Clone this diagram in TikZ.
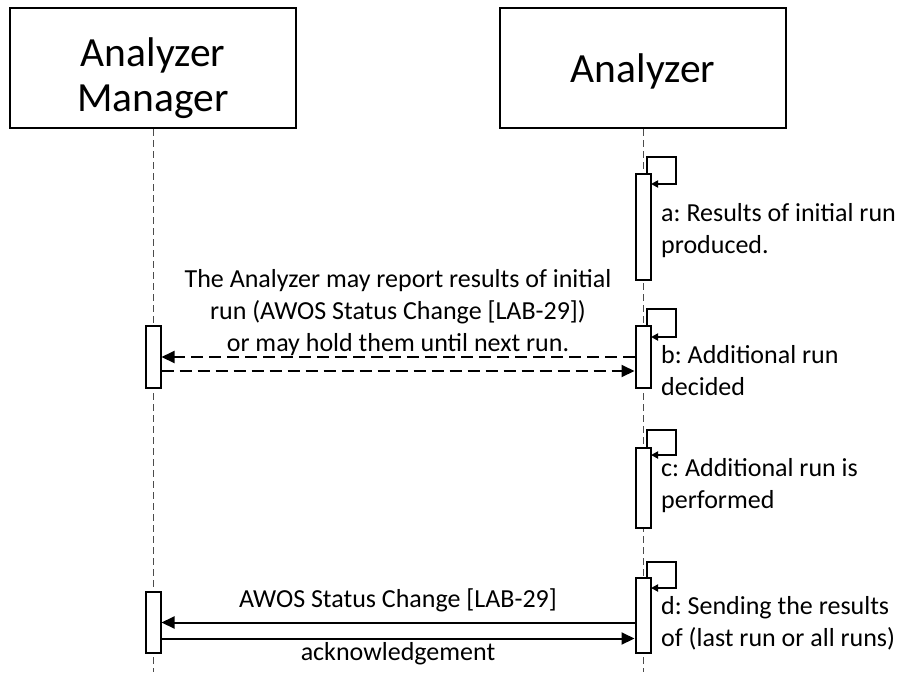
\documentclass[tikz,border=0pt]{standalone}
\usepackage{fontspec}
\setmainfont{Carlito}
\usetikzlibrary{arrows.meta,calc}
\frenchspacing
\newcommand\headfnt{\fontsize{41.5}{45}\selectfont}
\newcommand\labfnt{\fontsize{26}{32}\selectfont}
\begin{document}
\begin{tikzpicture}[x=1pt,y=-1pt,
  actor/.style={draw,line width=2.5pt,minimum width=286pt,minimum height=120pt,inner sep=0pt,font=\headfnt,align=center},
  lifeline/.style={line width=0.9pt,draw=black!70,dash pattern=on 7pt off 4pt},
  actbox/.style={draw,fill=white,line width=2pt,minimum width=15pt,inner sep=0pt},
  msg/.style={line width=2pt,-{Triangle[length=13pt,width=12pt]}},
  dmsg/.style={msg,dash pattern=on 12pt off 6pt},
  selfmsg/.style={line width=2pt,-{Triangle[length=7pt,width=7pt]}},
  lbl/.style={font=\labfnt,inner sep=0pt,align=left,anchor=base west},
  mlbl/.style={font=\labfnt,inner sep=0pt,align=center,anchor=base}]
\useasboundingbox (0,0) rectangle (904,672);
% actors
\node[actor] (mgr) at (153,68) {\rule{0pt}{50pt}Analyzer\\Manager};
\node[actor,text height=33pt,text depth=4pt] (anl) at (643,68) {Analyzer};
% lifelines
\draw[lifeline] (mgr.south) -- (mgr.south |- 0,672);
\draw[lifeline] (anl.south) -- (anl.south |- 0,672);
% activation boxes on the Analyzer
\node[actbox,minimum height=106pt] (a1) at (643,227) {};
\node[actbox,minimum height=62pt] (a2) at (643,357) {};
\node[actbox,minimum height=80pt] (a3) at (643,488) {};
\node[actbox,minimum height=75pt] (a4) at (643,615.5) {};
% activation boxes on the Analyzer Manager
\node[actbox,minimum height=62pt] (m1) at (153,357) {};
\node[actbox,minimum height=61pt] (m2) at (153,622.5) {};
% self messages
\draw[selfmsg] ([xshift=4pt]a1.north) -- ++(0,-16) -- ++(29,0) -- ++(0,27) -- ++(-25,0);
\draw[selfmsg] ([xshift=4pt]a2.north) -- ++(0,-16) -- ++(29,0) -- ++(0,28) -- ++(-25,0);
\draw[selfmsg] ([xshift=4pt]a3.north) -- ++(0,-17) -- ++(29,0) -- ++(0,25) -- ++(-25,0);
\draw[selfmsg] ([xshift=4pt]a4.north) -- ++(0,-15) -- ++(29,0) -- ++(0,26) -- ++(-25,0);
% step labels (anchor = baseline of the last line)
\node[lbl] (la) at (661,253) {a: Results of initial run\\produced.};
\node[lbl] (lb) at (661,395) {b: Additional run\\decided};
\node[lbl] (lc) at (661,508) {c: Additional run is\\performed};
\node[lbl] (ld) at (661,646) {d: Sending the results\\of (last run or all runs)};
% messages
\draw[dmsg] (a2.west) -- (m1.east);
\draw[dmsg] ($(m1.east)+(0,14)$) -- ($(m1.east -| a2.west)+(0,14)$);
\node[mlbl] (lm1) at (398,351) {The Analyzer may report results of initial\\run (AWOS Status Change [LAB-29])\\or may hold them until next run.};
\draw[msg] (m2.east -| a4.west) -- (m2.east);
\draw[msg] ($(m2.east)+(0,16)$) -- ($(m2.east -| a4.west)+(0,16)$);
\node[mlbl] (lm2) at (398,607.5) {AWOS Status Change [LAB-29]};
\node[mlbl] (lm3) at (398,660) {acknowledgement};
\end{tikzpicture}
\end{document}
